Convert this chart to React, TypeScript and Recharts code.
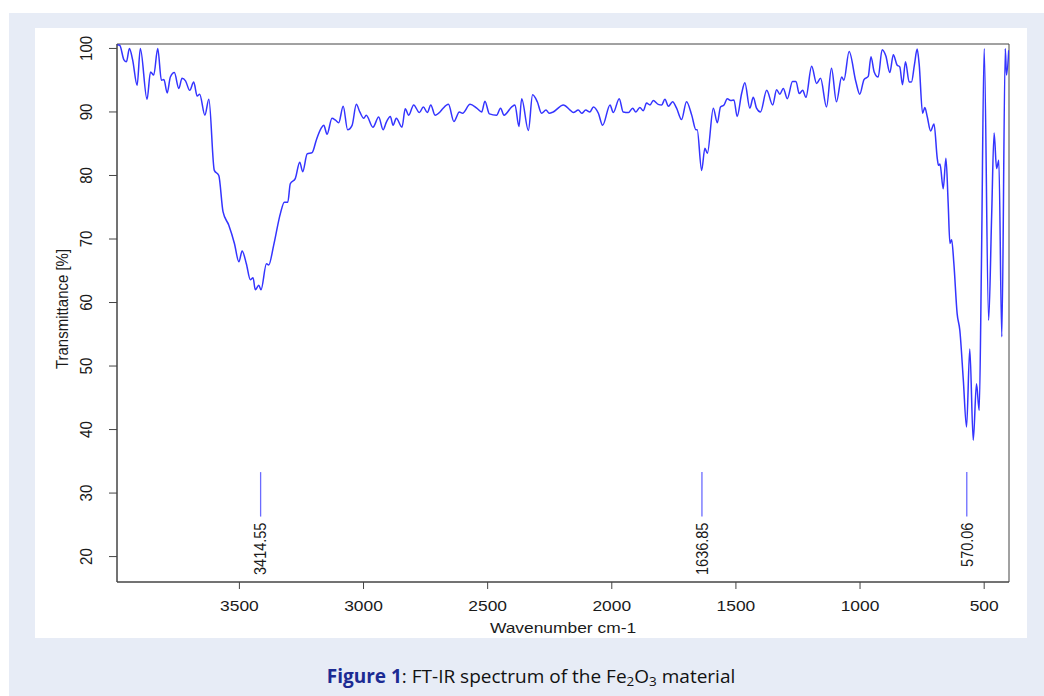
import React from 'react';
import { LineChart, Line, XAxis, YAxis, ReferenceLine, ReferenceArea } from 'recharts';

const wavenumber = [
  3993, 3982, 3965, 3955, 3943, 3930, 3912, 3899, 3872, 3858, 3845, 3829, 3814, 3804, 3791, 3778, 3762, 3744, 3731, 3717,
  3700, 3684, 3670, 3660, 3639, 3623, 3601, 3583, 3566, 3543, 3520, 3502, 3489, 3472, 3456, 3445, 3436, 3422, 3413, 3391,
  3382, 3362, 3335, 3319, 3305, 3295, 3275, 3257, 3245, 3227, 3207, 3190, 3171, 3160, 3147, 3127, 3113, 3100, 3082, 3064,
  3046, 3029, 3015, 2999, 2989, 2962, 2939, 2921, 2908, 2892, 2881, 2868, 2845, 2832, 2818, 2798, 2775, 2759, 2743, 2729,
  2712, 2692, 2681, 2658, 2636, 2614, 2601, 2571, 2544, 2524, 2511, 2493, 2464, 2448, 2434, 2403, 2390, 2374, 2363, 2336,
  2319, 2300, 2283, 2265, 2252, 2236, 2195, 2168, 2155, 2135, 2121, 2105, 2088, 2074, 2054, 2037, 2007, 1994, 1970, 1954,
  1933, 1916, 1903, 1887, 1873, 1860, 1846, 1833, 1813, 1799, 1786, 1772, 1755, 1739, 1719, 1699, 1678, 1661, 1656, 1638,
  1625, 1615, 1591, 1575, 1562, 1548, 1535, 1521, 1508, 1495, 1477, 1464, 1444, 1430, 1417, 1401, 1376, 1352, 1336, 1323,
  1309, 1293, 1272, 1258, 1245, 1231, 1218, 1195, 1175, 1159, 1135, 1115, 1095, 1074, 1065, 1044, 1017, 1001, 984, 967,
  956, 943, 927, 911, 896, 880, 866, 851, 840, 829, 817, 802, 793, 781, 770, 762, 748, 739, 729, 716,
  702, 689, 684, 678, 665, 654, 645, 638, 631, 622, 609, 598, 584, 571, 558, 544, 531, 520, 511, 500,
  482, 470, 460, 450, 441, 429, 415, 410, 401,
];

const transmittance = [
  100.6, 100.5, 98.2, 97.9, 100.0, 98.2, 94.2, 100.0, 92.0, 96.3, 95.8, 100.0, 95.0, 95.1, 93.0, 95.5, 96.2, 93.7, 95.3, 94.9,
  93.4, 94.7, 92.5, 92.8, 89.5, 92.0, 80.8, 80.0, 74.3, 72.2, 69.3, 66.4, 68.1, 66.1, 63.6, 63.9, 62.0, 62.7, 62.0, 66.1,
  65.9, 69.0, 74.0, 75.8, 75.8, 78.7, 79.5, 82.1, 80.6, 83.4, 83.6, 85.6, 87.4, 87.9, 86.5, 89.0, 88.7, 88.3, 90.9, 87.2,
  87.9, 91.2, 90.0, 89.0, 89.5, 87.6, 89.2, 87.2, 88.4, 89.3, 87.9, 89.0, 87.6, 90.5, 89.5, 91.1, 89.9, 90.8, 89.9, 91.1,
  89.5, 90.0, 90.5, 91.2, 88.5, 90.0, 89.8, 91.2, 90.6, 90.0, 91.7, 89.7, 89.5, 90.6, 89.5, 90.8, 91.1, 87.7, 92.1, 87.1,
  92.7, 91.6, 89.8, 90.3, 89.8, 90.0, 91.1, 90.3, 89.9, 90.3, 89.8, 90.3, 90.0, 90.8, 89.8, 87.9, 91.1, 89.9, 92.1, 90.0,
  89.9, 90.6, 90.0, 90.7, 90.2, 91.4, 91.1, 91.8, 91.2, 91.1, 92.0, 90.9, 91.6, 90.6, 88.8, 91.6, 89.5, 87.2, 87.2, 80.8,
  84.3, 83.5, 90.6, 88.3, 90.8, 91.1, 92.1, 91.8, 91.9, 89.3, 92.9, 94.6, 90.6, 92.3, 90.6, 90.0, 93.4, 91.1, 93.5, 92.8,
  93.7, 92.1, 94.8, 94.8, 92.9, 93.4, 92.3, 97.2, 94.5, 95.3, 90.8, 96.9, 91.6, 95.5, 95.0, 99.5, 94.8, 92.8, 95.1, 95.6,
  98.7, 96.3, 95.5, 99.8, 98.8, 96.2, 99.0, 97.4, 97.1, 94.3, 97.9, 94.7, 94.7, 97.4, 99.9, 97.6, 89.8, 90.7, 89.2, 87.0,
  88.1, 82.7, 81.6, 81.8, 77.9, 82.7, 75.6, 69.3, 69.9, 66.1, 58.3, 55.6, 47.8, 40.4, 52.7, 38.3, 47.2, 43.0, 66.1, 100.0,
  57.2, 73.5, 86.7, 81.1, 82.4, 54.6, 100.0, 95.8, 99.7,
];

const xTicks = [3500, 3000, 2500, 2000, 1500, 1000, 500];
const yTicks = [20, 30, 40, 50, 60, 70, 80, 90, 100];
const xDomain = [400, 3993];
const yDomain = [16, 100.7];

const peakPositions = [3414.55, 1636.85, 570.06];
const peakLabels = ['3414.55', '1636.85', '570.06'];
const markerLow = 26.3;
const markerHigh = 33.3;

const data = wavenumber.map((w, i) => ({ wn: w, t: transmittance[i] }));

const FONT = '"Liberation Sans", Arial, Helvetica, sans-serif';
const TEXT = '#1a1a1a';
const AXIS = '#444';
const AXIS_TOP = 582;
const AXIS_LEFT = 117;
const STRETCH = 1.16;

// Text drawn horizontally stretched (the reference image is wider than tall)
const SText = ({ x, y, rotate = 0, anchor = 'middle', size = 15, children }: any) => (
  <text
    x={0}
    y={0}
    textAnchor={anchor}
    dominantBaseline="central"
    transform={`translate(${x} ${y}) scale(${STRETCH} 1) rotate(${rotate})`}
    fontFamily={FONT}
    fontSize={size}
    fill={TEXT}
  >
    {children}
  </text>
);

const XTick = (props: any) => {
  const { x, payload } = props;
  return <SText x={x} y={AXIS_TOP + 23}>{payload.value}</SText>;
};

const YTick = (props: any) => {
  const { y, payload } = props;
  return <SText x={AXIS_LEFT - 31} y={y} rotate={-90}>{payload.value}</SText>;
};

const makePeakLabel = (text: string) => (props: any) => {
  const vb = props.viewBox || {};
  const x = (vb.x || 0) + (vb.width || 0) / 2;
  const bottom = (vb.y || 0) + (vb.height || 0) + 6;
  return (
    <SText x={x} y={bottom} rotate={-90} anchor="end" size={14.5}>
      {text}
    </SText>
  );
};

const YLabel = () => (
  <SText x={AXIS_LEFT - 55} y={309} rotate={-90}>
    Transmittance [%]
  </SText>
);

const XLabel = () => (
  <SText x={563} y={AXIS_TOP + 45}>
    Wavenumber cm-1
  </SText>
);

export default function App() {
  return (
    <div style={{ position: 'absolute', left: 0, top: 0, width: 1044, height: 696, background: '#fff', overflow: 'hidden' }}>
      <div style={{ position: 'absolute', left: 9, top: 13, width: 1035, height: 683, background: '#e7ecf6' }} />
      <div style={{ position: 'absolute', left: 35, top: 28, width: 992, height: 610, background: '#ffffff' }} />
      <div style={{ position: 'absolute', left: 0, top: 0 }}>
        <LineChart width={1044} height={696} data={data} margin={{ top: 44, right: 35, bottom: 64, left: 57 }}>
          <XAxis
            dataKey="wn"
            type="number"
            domain={xDomain}
            reversed
            ticks={xTicks}
            interval={0}
            allowDataOverflow
            height={50}
            tickSize={7}
            tick={<XTick />}
            stroke={AXIS}
            tickLine={{ stroke: AXIS }}
            axisLine={{ stroke: AXIS }}
            label={<XLabel />}
          />
          <YAxis
            type="number"
            domain={yDomain}
            ticks={yTicks}
            interval={0}
            allowDataOverflow
            width={60}
            tickSize={8}
            tick={<YTick />}
            stroke={AXIS}
            tickLine={{ stroke: AXIS }}
            axisLine={{ stroke: AXIS }}
            label={<YLabel />}
          />
          <ReferenceArea
            x1={xDomain[0]}
            x2={xDomain[1]}
            y1={yDomain[0]}
            y2={yDomain[1]}
            fill="none"
            fillOpacity={0}
            stroke={AXIS}
            strokeWidth={1}
            ifOverflow="visible"
          />
          {peakPositions.map((p, i) => (
            <ReferenceLine
              key={p}
              segment={[{ x: p, y: markerLow }, { x: p, y: markerHigh }]}
              stroke="#6b6bff"
              strokeWidth={1.3}
              ifOverflow="visible"
              label={makePeakLabel(peakLabels[i])}
            />
          ))}
          <Line
            type="monotone"
            dataKey="t"
            stroke="#3434ff"
            strokeWidth={1.5}
            dot={false}
            activeDot={false}
            isAnimationActive={false}
          />
        </LineChart>
      </div>
      <div
        style={{
          position: 'absolute',
          left: 9,
          width: 1044,
          top: 663,
          textAlign: 'center',
          fontFamily: '"Open Sans", "Noto Sans", sans-serif',
          fontSize: 19,
          color: '#111',
          lineHeight: '26px',
        }}
      >
        <span style={{ fontWeight: 700, color: '#1c2b93' }}>Figure 1</span>: FT-IR spectrum of the Fe
        <sub style={{ fontSize: 13.5, verticalAlign: 'baseline', position: 'relative', top: 3 }}>2</sub>O
        <sub style={{ fontSize: 13.5, verticalAlign: 'baseline', position: 'relative', top: 3 }}>3</sub> material
      </div>
    </div>
  );
}
